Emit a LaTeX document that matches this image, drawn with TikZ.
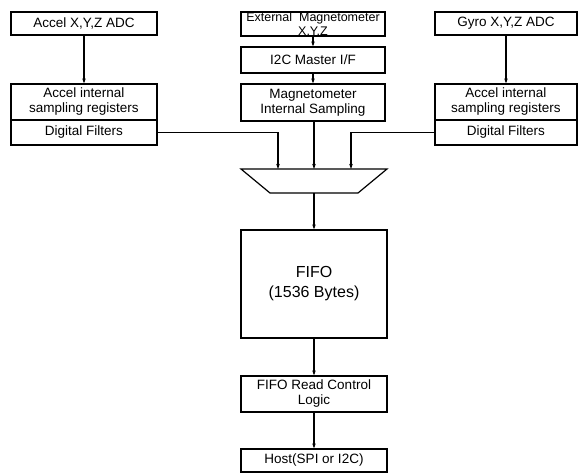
\documentclass[tikz,border=0pt]{standalone}
\usepackage{fontspec}
\setmainfont{Liberation Sans}
\usetikzlibrary{arrows.meta}
\begin{document}
\begin{tikzpicture}[x=1pt,y=-1pt,
  box/.style={draw,line width=1.2pt,inner sep=0pt,align=center,font=\fontsize{13.5}{15}\selectfont},
  arr/.style={line width=1.1pt,-{Stealth[length=5pt,width=3.5pt]}},
  ln/.style={line width=1.1pt}]
\useasboundingbox (0,0) rectangle (579,474);
% left column
\node[box,minimum width=146pt,minimum height=23pt] (lt) at (84,23.5) {Accel X,Y,Z ADC};
\node[box,minimum width=146pt,minimum height=36pt] (lr) at (84,102) {Accel internal\\sampling registers};
\node[box,minimum width=146pt,minimum height=25pt] (lf) at (84,132.5) {Digital Filters};
% right column
\node[box,minimum width=142pt,minimum height=23pt] (rt) at (506,23.5) {Gyro X,Y,Z ADC};
\node[box,minimum width=142pt,minimum height=36pt] (rr) at (506,102) {Accel internal\\sampling registers};
\node[box,minimum width=142pt,minimum height=25pt] (rf) at (506,132.5) {Digital Filters};
% centre column
\node[box,minimum width=144pt,minimum height=24pt] (em) at (313,24) {};
\node[font=\fontsize{12.5}{14}\selectfont,align=center,inner sep=0pt] (emt) at (313,25) {External\ \ Magnetometer\\X,Y,Z};
\node[box,minimum width=144pt,minimum height=26pt] (i2c) at (313,60) {I2C Master I/F};
\node[box,minimum width=144pt,minimum height=37pt] (ms) at (313,102.5) {Magnetometer\\Internal Sampling};
% mux
\coordinate (mtl) at (241,169);
\coordinate (mtr) at (387,169);
\coordinate (mbr) at (358,193);
\coordinate (mbl) at (270,193);
\coordinate (m1) at (278,169);
\coordinate (m2) at (314,169);
\coordinate (m3) at (351,169);
\coordinate (mo) at (314,193);
\draw[line width=1.2pt] (mtl) -- (mtr) -- (mbr) -- (mbl) -- cycle;
% lower column
\node[box,minimum width=146pt,minimum height=108pt,font=\fontsize{16}{20}\selectfont] (fifo) at (314,284) {FIFO\\(1536 Bytes)};
\node[box,minimum width=146pt,minimum height=36pt] (rc) at (314,394) {FIFO Read Control\\Logic};
\node[box,minimum width=146pt,minimum height=23pt] (host) at (314,460.5) {Host(SPI or I2C)};
% connectors
\draw[arr] (lt) -- (lr);
\draw[arr] (rt) -- (rr);
\draw[arr] (em) -- (i2c);
\draw[arr] (i2c) -- (ms);
\draw[arr] (lf.east) -| (m1);
\draw[arr] (rf.west) -| (m3);
\draw[arr] (ms.south -| m2) -- (m2);
\draw[arr] (mo) -- (fifo.north -| mo);
\draw[arr] (fifo) -- (rc);
\draw[arr] (rc) -- (host);
\end{tikzpicture}
\end{document}
